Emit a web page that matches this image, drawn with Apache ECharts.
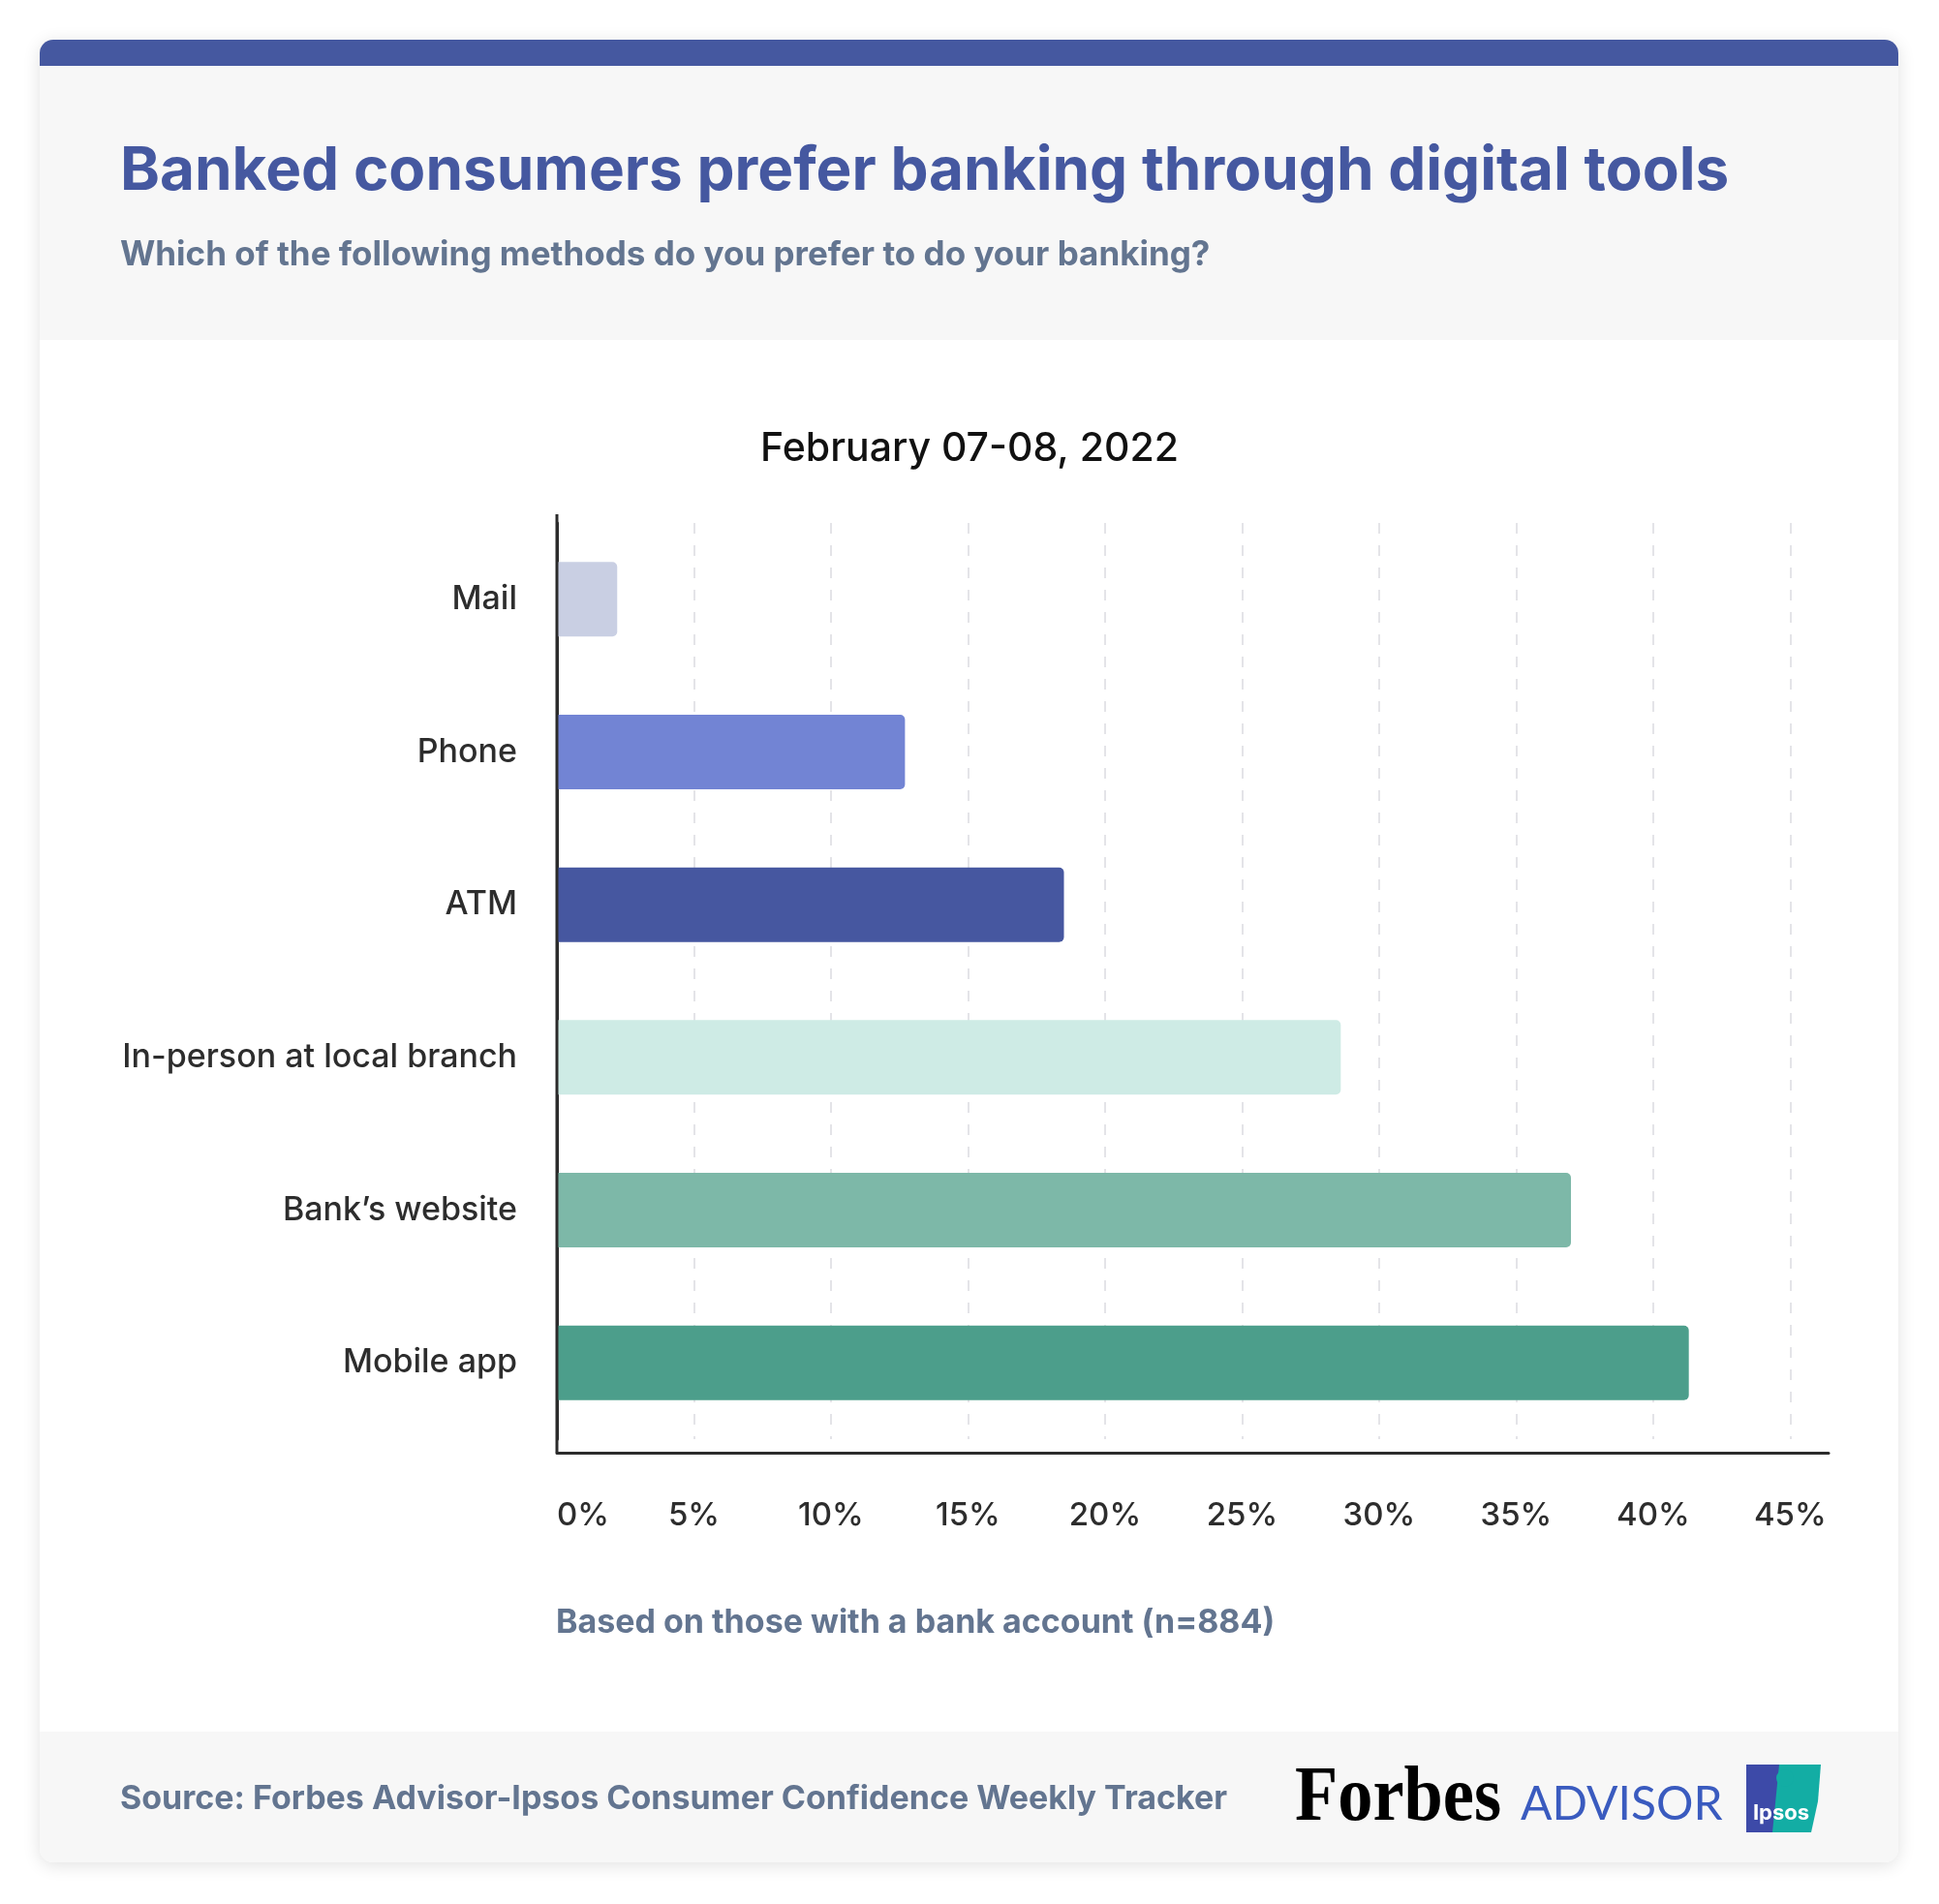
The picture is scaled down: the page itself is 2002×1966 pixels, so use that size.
<!DOCTYPE html>
<html>
<head>
<meta charset="utf-8">
<script src="https://cdn.jsdelivr.net/npm/echarts@6/dist/echarts.min.js"></script>
<style>
  html, body { margin: 0; padding: 0; background: #ffffff; }
  #chart { width: 2002px; height: 1966px; }
</style>
</head>
<body>
<div id="chart"></div>
<script>
// survey answers, top to bottom
var categories = ['Mail', 'Phone', 'ATM', 'In-person at local branch', 'Bank\u2019s website', 'Mobile app'];
var shares = [2.2, 12.7, 18.5, 28.6, 37.0, 41.3];
var barColors = ['#c9cfe3', '#7284d4', '#4657a0', '#ceebe5', '#7db8a8', '#4c9e8b'];
var tickStep = 5;
var axisMax = 46.4;

var titleText = 'Banked consumers prefer banking through digital tools';
var subText = 'Which of the following methods do you prefer to do your banking?';
var periodText = 'February 07-08, 2022';
var noteText = 'Based on those with a bank account (n=884)';
var sourceText = 'Source: Forbes Advisor-Ipsos Consumer Confidence Weekly Tracker';

var font = 'Inter, "Noto Sans", sans-serif';
var slate = '#637590';
var ink = '#2b2b2b';

var chart = echarts.init(document.getElementById('chart'));

var option = {
  backgroundColor: '#ffffff',
  animation: false,
  grid: { left: 575, right: 114, top: 540, bottom: 480, containLabel: false },
  xAxis: {
    type: 'value',
    min: 0,
    max: axisMax,
    interval: tickStep,
    offset: 14,
    axisLine: { show: true, lineStyle: { color: ink, width: 3 } },
    axisTick: { show: false },
    axisLabel: {
      color: '#2d2d2d',
      fontFamily: font,
      fontSize: 33,
      fontWeight: 500,
      margin: 49,
      showMaxLabel: false,
      alignMinLabel: 'left',
      formatter: function (v) { return v + '%'; }
    },
    splitLine: {
      show: true,
      showMinLine: false,
      showMaxLine: false,
      lineStyle: { color: '#e4e4e8', width: 2, type: [11, 12] }
    }
  },
  yAxis: {
    type: 'category',
    inverse: true,
    data: categories,
    axisLine: { show: true, lineStyle: { color: ink, width: 3 } },
    axisTick: { show: false },
    axisLabel: {
      color: '#2d2d2d',
      fontFamily: font,
      fontSize: 34,
      fontWeight: 500,
      margin: 41
    }
  },
  series: [{
    type: 'bar',
    barWidth: 77,
    data: shares.map(function (v, i) {
      return { value: v, itemStyle: { color: barColors[i], borderRadius: [0, 5, 5, 0] } };
    }),
    z: 3
  }],
  graphic: [
    // card
    { type: 'rect', z: -10, shape: { x: 41, y: 41, width: 1919, height: 1882, r: 14 },
      style: { fill: '#ffffff', shadowBlur: 18, shadowColor: 'rgba(0,0,0,0.12)', shadowOffsetY: 3 } },
    { type: 'rect', z: -9, shape: { x: 41, y: 41, width: 1919, height: 40, r: [14, 14, 0, 0] },
      style: { fill: '#4558a0' } },
    { type: 'rect', z: -9, shape: { x: 41, y: 68, width: 1919, height: 283 },
      style: { fill: '#f7f7f7' } },
    { type: 'rect', z: -9, shape: { x: 41, y: 1788, width: 1919, height: 135, r: [0, 0, 14, 14] },
      style: { fill: '#f7f7f7' } },
    // y axis line runs down to the offset x axis
    { type: 'line', z: 4, shape: { x1: 575, y1: 531, x2: 575, y2: 1500 },
      style: { stroke: ink, lineWidth: 3 } },
    // texts
    { type: 'text', z: 5, x: 124, y: 177,
      style: { text: titleText, fill: '#4558a0', font: 'bold 62px ' + font, textVerticalAlign: 'middle' } },
    { type: 'text', z: 5, x: 124, y: 263,
      style: { text: subText, fill: slate, font: 'bold 35px ' + font, textVerticalAlign: 'middle' } },
    { type: 'text', z: 5, x: 1001, y: 464,
      style: { text: periodText, fill: '#111111', font: '500 41px ' + font, textAlign: 'center', textVerticalAlign: 'middle' } },
    { type: 'text', z: 5, x: 574, y: 1676,
      style: { text: noteText, fill: slate, font: 'bold 34px ' + font, textVerticalAlign: 'middle' } },
    { type: 'text', z: 5, x: 124, y: 1858,
      style: { text: sourceText, fill: slate, font: 'bold 34px ' + font, textVerticalAlign: 'middle' } },
    // logos
    { type: 'text', z: 5, x: 1337, y: 1858, scaleX: 0.905,
      style: { text: 'Forbes', fill: '#000000', font: 'bold 80px "Liberation Serif", serif', textVerticalAlign: 'middle' } },
    { type: 'text', z: 5, x: 1570, y: 1864,
      style: { text: 'ADVISOR', fill: '#3a5bbf', font: '48px Lato, sans-serif', textVerticalAlign: 'middle' } },
    { type: 'rect', z: 5, shape: { x: 1803, y: 1822, width: 40, height: 70 }, style: { fill: '#3d4aa8' } },
    { type: 'polygon', z: 5, shape: { points: [[1837, 1822], [1880, 1822], [1877, 1860], [1870, 1892], [1830, 1892]] },
      style: { fill: '#13ada4' } },
    { type: 'circle', z: 6, shape: { cx: 1843, cy: 1836, r: 9 }, style: { fill: '#13ada4' } },
    { type: 'text', z: 7, x: 1839, y: 1872,
      style: { text: 'Ipsos', fill: '#ffffff', font: 'bold 22px ' + font, textAlign: 'center', textVerticalAlign: 'middle' } }
  ]
};

chart.setOption(option);
</script>
</body>
</html>
